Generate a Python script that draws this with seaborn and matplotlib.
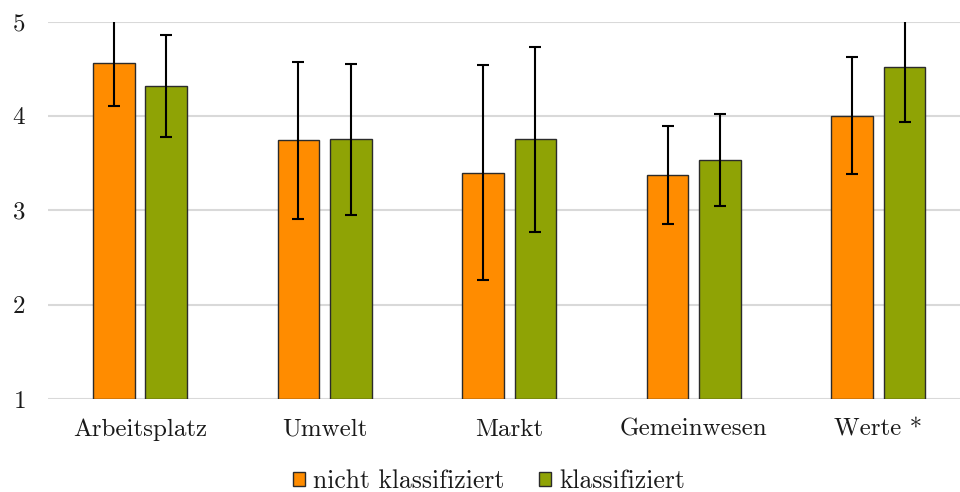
import pandas as pd
import seaborn as sns
import matplotlib.pyplot as plt

# Werte
kategorien = ['Arbeitsplatz', 'Umwelt', 'Markt', 'Gemeinwesen', 'Werte *']
gruppen = ['nicht klassifiziert', 'klassifiziert']
mittel_nicht = [4.56, 3.74, 3.40, 3.37, 4.00]
mittel_klass = [4.32, 3.75, 3.75, 3.53, 4.52]
sd_nicht = [0.46, 0.83, 1.14, 0.52, 0.62]
sd_klass = [0.54, 0.80, 0.98, 0.49, 0.59]

farben = ['#FF8C00', '#8FA305']

df = pd.DataFrame({
    'Kategorie': kategorien * 2,
    'Gruppe': [gruppen[0]] * 5 + [gruppen[1]] * 5,
    'Mittel': mittel_nicht + mittel_klass,
    'SD': sd_nicht + sd_klass,
})

sns.set_theme(style='white')
plt.rcParams['font.family'] = ['cmr10', 'DejaVu Serif']
plt.rcParams['axes.formatter.use_mathtext'] = True

fig = plt.figure(figsize=(9.6, 4.92), dpi=100)
ax = fig.add_axes([47.7 / 960, 1 - 399 / 492, 923 / 960, (399 - 21.5) / 492])

sns.barplot(data=df, x='Kategorie', y='Mittel', hue='Gruppe', palette=farben,
            saturation=1, width=0.569, gap=0.208, errorbar=None,
            edgecolor='#2b2b2b', linewidth=1.0, ax=ax, zorder=2)
balken = list(ax.containers)

# Balken von 1 aus zeichnen, dann Fehlerbalken setzen
for container, grp in zip(balken, gruppen):
    for p in container:
        h = p.get_height()
        p.set_y(1)
        p.set_height(h - 1)
    sub = df[df['Gruppe'] == grp]
    xs = [p.get_x() + p.get_width() / 2 for p in container]
    ys = sub['Mittel'].values
    ax.errorbar(xs, ys, yerr=sub['SD'].values, fmt='none', ecolor='black',
                elinewidth=1.5, capsize=4.5, capthick=1.5, zorder=3)

ax.set_ylim(1, 5)
ax.set_yticks([1, 2, 3, 4, 5])
ax.set_xlim(-0.5, 4.5)
ax.yaxis.grid(True, color='#d9d9d9', linewidth=1.5, zorder=0)
ax.set_axisbelow(True)
for s in ax.spines.values():
    s.set_visible(False)
ax.set_xlabel('')
ax.set_ylabel('')
ax.tick_params(axis='both', length=0, labelsize=18, colors='#1a1a1a')
ax.tick_params(axis='x', pad=14)
ax.tick_params(axis='y', pad=16)

handles, labels = ax.get_legend_handles_labels()
ax.get_legend().remove()
fig.legend(handles, labels, loc='center', bbox_to_anchor=(489 / 960, 1 - 481 / 492),
           ncol=2, frameon=False, fontsize=18.5, handlelength=0.48, handleheight=0.48,
           handletextpad=0.3, columnspacing=1.35, borderaxespad=0, borderpad=0,
           labelcolor='#1a1a1a')

fig.savefig('out.png', dpi=100)
